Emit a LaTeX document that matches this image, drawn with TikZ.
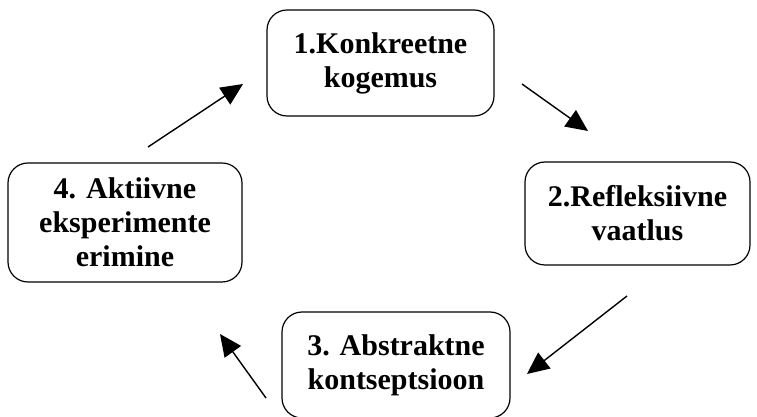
\documentclass[tikz,border=0pt]{standalone}
\usepackage{fontspec}
\setmainfont{Liberation Serif}
\usetikzlibrary{arrows.meta}
\begin{document}
\begin{tikzpicture}[x=1pt, y=1pt,
    stage/.style={draw, line width=1.2pt, rounded corners=20pt, align=center,
        font=\fontsize{30}{34}\selectfont\bfseries, inner sep=0pt},
    arr/.style={line width=1.4pt, -{Triangle[length=22pt, width=20pt]}}]
    \useasboundingbox (0, 0) rectangle (757, 417);

    % Stages of the cycle
    \node[stage, minimum width=227pt, minimum height=106pt] (k1) at (380.5, 354) {1.Konkreetne\\kogemus};
    \node[stage, minimum width=225pt, minimum height=103pt] (k2) at (637.5, 203.5) {2.Refleksiivne\\vaatlus};
    \node[stage, minimum width=228pt, minimum height=106pt] (k3) at (396, 52) {3. Abstraktne\\kontseptsioon};
    \node[stage, minimum width=234pt, minimum height=119pt] (k4) at (125, 194.5) {4. Aktiivne\\eksperimente\\erimine};

    % Arrow ends
    \coordinate (a1) at (522, 333);
    \coordinate (b1) at (588, 286);
    \coordinate (a2) at (627, 121);
    \coordinate (b2) at (527, 43);
    \coordinate (a3) at (266, 19);
    \coordinate (b3) at (220, 83);
    \coordinate (a4) at (148, 270);
    \coordinate (b4) at (243, 333);

    % Arrows
    \draw[arr] (a1) -- (b1);
    \draw[arr] (a2) -- (b2);
    \draw[arr] (a3) -- (b3);
    \draw[arr] (a4) -- (b4);
\end{tikzpicture}
\end{document}
